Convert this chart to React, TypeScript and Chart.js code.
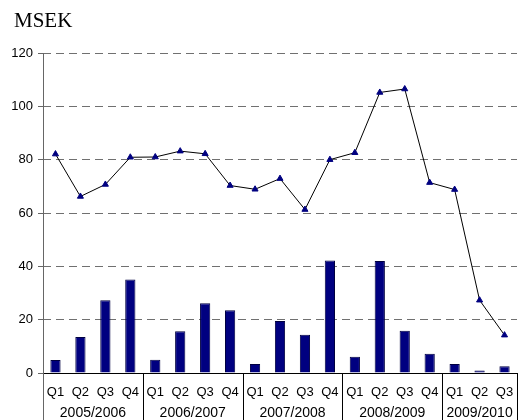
import React, { useEffect, useRef } from "react";
import { Chart, registerables } from "chart.js";

Chart.register(...registerables);

const quarters = ["Q1", "Q2", "Q3", "Q4", "Q1", "Q2", "Q3", "Q4", "Q1", "Q2", "Q3", "Q4", "Q1", "Q2", "Q3", "Q4", "Q1", "Q2", "Q3"];
const years = ["2005/2006", "2006/2007", "2007/2008", "2008/2009", "2009/2010"];
const yearStarts = [0, 4, 8, 12, 16, 19];
const barValues = [4.9, 13.5, 27.3, 35.1, 5.0, 15.7, 26.2, 23.5, 3.4, 19.5, 14.3, 42.2, 6.1, 42.0, 15.8, 7.2, 3.4, 0.9, 2.5];
const lineValues = [82.1, 66.2, 70.7, 80.9, 81.0, 83.2, 82.2, 70.3, 68.9, 72.9, 61.3, 80.0, 82.6, 105.2, 106.5, 71.4, 68.8, 27.3, 14.2];
const yMin = 0;
const yMax = 120;
const yStep = 20;
const unitLabel = "MSEK";

const FONT = "'Liberation Sans', Arial, sans-serif";

const overlayPlugin = {
  id: "overlay",
  afterDraw(chart: any) {
    const { ctx, chartArea, scales } = chart;
    const x = scales.x;
    const h = chart.height;
    ctx.save();
    // unit label
    ctx.fillStyle = "#000";
    ctx.font = "21px 'Liberation Serif', 'Times New Roman', serif";
    ctx.textAlign = "left";
    ctx.textBaseline = "alphabetic";
    ctx.fillText(unitLabel, 14, 27);

    // axes
    ctx.lineWidth = 1;
    ctx.strokeStyle = "#000";
    ctx.beginPath();
    ctx.moveTo(chartArea.left, Math.round(chartArea.bottom) + 0.5);
    ctx.lineTo(chartArea.right, Math.round(chartArea.bottom) + 0.5);
    ctx.stroke();

    ctx.strokeStyle = "#666";
    ctx.beginPath();
    ctx.moveTo(Math.round(chartArea.left) + 0.5, chartArea.top);
    ctx.lineTo(Math.round(chartArea.left) + 0.5, h);
    ctx.stroke();

    // group separators and year labels
    const bounds = yearStarts.map((b) => {
      if (b === 0) return chartArea.left;
      if (b >= quarters.length) return chartArea.right;
      return (x.getPixelForValue(b) + x.getPixelForValue(b - 1)) / 2;
    });
    ctx.strokeStyle = "#000";
    bounds.forEach((bx, i) => {
      if (i === 0) return;
      ctx.beginPath();
      ctx.moveTo(Math.round(bx) + 0.5, chartArea.bottom);
      ctx.lineTo(Math.round(bx) + 0.5, h);
      ctx.stroke();
    });
    ctx.font = "14px " + FONT;
    ctx.textAlign = "center";
    ctx.textBaseline = "middle";
    ctx.fillStyle = "#000";
    years.forEach((yl, i) => {
      const cx = (bounds[i] + bounds[i + 1]) / 2;
      ctx.fillText(yl, cx, 413.5);
    });
    ctx.restore();
  },
};

export default function App() {
  const ref = useRef<HTMLCanvasElement>(null);
  useEffect(() => {
    if (!ref.current) return;
    const chart = new Chart(ref.current, {
      type: "bar",
      data: {
        labels: quarters,
        datasets: [
          {
            type: "line",
            data: lineValues,
            borderColor: "#000",
            borderWidth: 1,
            pointStyle: "triangle",
            pointRadius: 3.5,
            pointBackgroundColor: "#000080",
            pointBorderColor: "#000080",
            pointBorderWidth: 1,
            tension: 0,
            order: 0,
          } as any,
          {
            type: "bar",
            data: barValues,
            backgroundColor: "#000080",
            borderColor: "#000040",
            borderWidth: 1,
            barPercentage: 0.41,
            categoryPercentage: 1,
            order: 1,
          } as any,
        ],
      },
      options: {
        animation: false,
        responsive: true,
        maintainAspectRatio: false,
        layout: { padding: { top: 53, left: 0, right: 0, bottom: 0 } },
        plugins: { legend: { display: false }, tooltip: { enabled: false } },
        scales: {
          x: {
            offset: true,
            grid: { display: false },
            border: { display: false },
            ticks: { color: "#000", font: { family: FONT, size: 13 }, padding: 4, maxRotation: 0, autoSkip: false },
            afterFit: (s: any) => {
              s.height = 47;
            },
          },
          y: {
            min: yMin,
            max: yMax,
            ticks: { stepSize: yStep, color: "#000", font: { family: FONT, size: 13 }, padding: 5 },
            grid: {
              color: "#707070",
              lineWidth: 1,
              tickLength: 5,
              tickColor: "#666",
              tickBorderDash: [],
              drawTicks: true,
            },
            border: { display: false, dash: [8, 5] },
            afterFit: (s: any) => {
              s.width = 43;
            },
          },
        },
      },
      plugins: [overlayPlugin],
    });
    return () => chart.destroy();
  }, []);
  return (
    <div style={{ position: "fixed", left: 0, top: 0, width: 522, height: 420, background: "#fff" }}>
      <canvas ref={ref} />
    </div>
  );
}
